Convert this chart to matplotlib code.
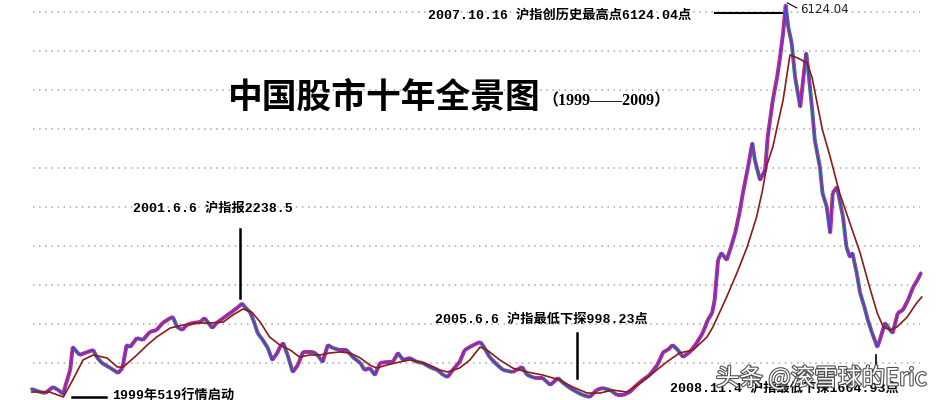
import matplotlib
matplotlib.use("Agg")
import matplotlib.pyplot as plt
import matplotlib.patheffects as pe
from matplotlib.collections import LineCollection
import numpy as np

# 上证指数 (周线收盘走势, 读图估计)  年份小数 / 点位
dates = [1998.97, 1999.07, 1999.13, 1999.22, 1999.28, 1999.34, 1999.36, 1999.42, 1999.45, 1999.48,
         1999.53, 1999.62, 1999.69, 1999.73, 1999.79, 1999.89, 1999.98, 2000.03, 2000.08, 2000.12,
         2000.20, 2000.27, 2000.35, 2000.43, 2000.50, 2000.59, 2000.62, 2000.67, 2000.73, 2000.78,
         2000.85, 2000.94, 2000.99, 2001.08, 2001.13, 2001.21, 2001.29, 2001.37, 2001.43, 2001.46,
         2001.52, 2001.56, 2001.61, 2001.67, 2001.73, 2001.78, 2001.84, 2001.87, 2001.91, 2001.96,
         2002.02, 2002.08, 2002.14, 2002.20, 2002.26, 2002.31, 2002.37, 2002.43, 2002.49, 2002.57,
         2002.65, 2002.72, 2002.81, 2002.86, 2002.92, 2002.98, 2003.04, 2003.12, 2003.19, 2003.25,
         2003.31, 2003.39, 2003.47, 2003.54, 2003.62, 2003.71, 2003.78, 2003.83, 2003.89, 2003.97,
         2004.03, 2004.09, 2004.13, 2004.21, 2004.24, 2004.32, 2004.41, 2004.48, 2004.59, 2004.70,
         2004.76, 2004.85, 2004.94, 2005.03, 2005.12, 2005.18, 2005.26, 2005.34, 2005.41, 2005.49,
         2005.57, 2005.64, 2005.73, 2005.81, 2005.88, 2005.96, 2006.04, 2006.11, 2006.19, 2006.28,
         2006.35, 2006.40, 2006.46, 2006.52, 2006.58, 2006.66, 2006.74, 2006.81, 2006.87, 2006.92,
         2006.95, 2006.99, 2007.03, 2007.09, 2007.13, 2007.19, 2007.24, 2007.28, 2007.34, 2007.39,
         2007.42, 2007.48, 2007.54, 2007.57, 2007.63, 2007.68, 2007.71, 2007.75, 2007.78, 2007.81,
         2007.85, 2007.89, 2007.95, 2007.98, 2008.02, 2008.04, 2008.09, 2008.12, 2008.18, 2008.21,
         2008.26, 2008.30, 2008.33, 2008.38, 2008.41, 2008.45, 2008.49, 2008.53, 2008.56, 2008.61,
         2008.65, 2008.70, 2008.74, 2008.79, 2008.85, 2008.88, 2008.94, 2009.00, 2009.03, 2009.09,
         2009.15, 2009.21, 2009.27, 2009.32, 2009.36]
close = [1115, 1076, 1063, 1142, 1102, 1050, 1142, 1363, 1663, 1624,
         1559, 1598, 1624, 1533, 1455, 1389, 1324, 1389, 1689, 1663,
         1780, 1754, 1859, 1885, 1976, 2041, 2054, 1924, 1885, 1950,
         1976, 1989, 2041, 1911, 1976, 2041, 2106, 2172, 2230, 2185,
         2120, 2015, 1846, 1754, 1650, 1494, 1585, 1663, 1715, 1559,
         1337, 1428, 1598, 1598, 1598, 1559, 1468, 1689, 1650, 1624,
         1624, 1533, 1455, 1363, 1389, 1298, 1455, 1468, 1468, 1585,
         1494, 1520, 1468, 1455, 1402, 1363, 1298, 1272, 1363, 1468,
         1624, 1663, 1689, 1728, 1689, 1533, 1428, 1363, 1337, 1402,
         1298, 1259, 1259, 1168, 1259, 1194, 1128, 1076, 1037, 1011,
         1102, 1128, 1102, 1037, 1037, 1076, 1168, 1233, 1298, 1428,
         1598, 1624, 1689, 1624, 1533, 1598, 1715, 1846, 2015, 2106,
         2276, 2798, 2889, 2798, 2928, 3150, 3411, 3671, 4010, 4323,
         4102, 3841, 3971, 4402, 4884, 5184, 5406, 5758, 6124, 5836,
         5627, 5184, 4793, 5106, 5497, 5314, 4754, 4362, 4010, 3671,
         3489, 3150, 3671, 3749, 3580, 3358, 2967, 2837, 2889, 2628,
         2367, 2185, 2015, 1846, 1663, 1754, 1976, 1885, 1846, 2106,
         2146, 2276, 2446, 2537, 2628]

# 长期均线
ma_dates = [1998.97, 1999.18, 1999.34, 1999.45, 1999.57, 1999.69, 1999.85, 1999.97, 2000.04, 2000.20,
            2000.32, 2000.43, 2000.59, 2000.74, 2000.90, 2001.05, 2001.21, 2001.32, 2001.44, 2001.54,
            2001.64, 2001.75, 2001.87, 2001.99, 2002.10, 2002.22, 2002.34, 2002.45, 2002.57, 2002.69,
            2002.81, 2002.92, 2003.00, 2003.12, 2003.27, 2003.39, 2003.51, 2003.62, 2003.74, 2003.83,
            2003.97, 2004.09, 2004.21, 2004.29, 2004.44, 2004.59, 2004.76, 2004.94, 2005.14, 2005.29,
            2005.46, 2005.61, 2005.76, 2005.92, 2006.08, 2006.23, 2006.39, 2006.54, 2006.70, 2006.86,
            2006.93, 2007.09, 2007.21, 2007.33, 2007.44, 2007.51, 2007.56, 2007.63, 2007.68, 2007.75,
            2007.83, 2007.92, 2008.03, 2008.09, 2008.14, 2008.21, 2008.30, 2008.41, 2008.53, 2008.65,
            2008.76, 2008.85, 2008.92, 2009.00, 2009.08, 2009.20, 2009.31, 2009.37]
ma = [1076, 1076, 1011, 1233, 1494, 1559, 1520, 1402, 1402, 1559,
      1689, 1793, 1911, 1950, 1976, 1976, 1989, 2080, 2159, 2120,
      1989, 1793, 1689, 1624, 1533, 1559, 1559, 1585, 1598, 1585,
      1520, 1428, 1389, 1428, 1468, 1494, 1468, 1428, 1363, 1337,
      1389, 1494, 1663, 1624, 1494, 1389, 1337, 1298, 1233, 1142,
      1063, 1063, 1102, 1076, 1194, 1324, 1468, 1585, 1624, 1793,
      1924, 2315, 2628, 2967, 3358, 3710, 4036, 4271, 4532, 4884,
      5471, 5432, 5366, 5171, 4884, 4493, 4141, 3671, 3280, 2889,
      2446, 2106, 1924, 1885, 1924, 2054, 2237, 2315]

grid_levels = [1455, 1964, 2473, 2982, 3491, 4000, 4509, 5018, 5527, 6036]

plt.rcParams['font.family'] = ['Noto Sans CJK SC', 'DejaVu Sans']

fig = plt.figure(figsize=(9.5, 4), dpi=100)
ax = fig.add_axes([0, 0, 1, 1])
ax.set_xlim(1998.60, 2009.70)
ax.set_ylim(972, 6188)
ax.axis('off')

# 虚线网格
ax.hlines(grid_levels, 1998.99, 2009.35, colors='#a8a8a8', linestyles=(0, (1, 3)), lw=1.1, zorder=0)

# K线感: 涨红跌绿
x = np.array(dates)
y = np.array(close)
segs = [[(x[i], y[i]), (x[i + 1], y[i + 1])] for i in range(len(x) - 1)]
cols = ['#e0202a' if y[i + 1] >= y[i] else '#1a9a2a' for i in range(len(x) - 1)]
ax.add_collection(LineCollection(segs, colors=cols, linewidths=2.8, zorder=2))
ax.plot(dates, close, color='#a035d0', lw=1.9, zorder=3)
ax.plot(dates, close, color='#2838c8', lw=0.5, zorder=4)
ax.plot(ma_dates, ma, color='#8b1a1a', lw=1.2, zorder=5)

mono = ['Liberation Mono', 'Noto Sans CJK SC']
tkw = dict(fontsize=9.5, fontweight='bold', family=mono, color='black', va='center', ha='left')

ax.text(1998.60 + 428 / 85.6, 6188 - 13.04 * 15, '2007.10.16 沪指创历史最高点6124.04点', **tkw)
ax.plot([2006.95, 2007.74], [6019, 6019], color='black', lw=1.5)
ax.plot([2007.80, 2007.91], [6150, 6085], color='black', lw=0.8)
ax.text(2007.95, 6070, '6124.04', fontsize=8.5, color='#222222', family='DejaVu Sans', va='center', ha='left')

ax.text(1998.60 + 228 / 85.6, 6188 - 13.04 * 97, '中国股市十年全景图', fontsize=25, fontweight='heavy',
        color='black', va='center', ha='left')
ax.text(1998.60 + 542 / 85.6, 6188 - 13.04 * 101, '（1999——2009）', fontsize=11.5, fontweight='bold',
        family=['Liberation Serif', 'Noto Sans CJK SC'], color='black', va='center', ha='left')

ax.text(1998.60 + 133 / 85.6, 6188 - 13.04 * 209, '2001.6.6 沪指报2238.5', **tkw)
ax.plot([2001.41, 2001.41], [3202, 2302], color='black', lw=1.8)

ax.text(1998.60 + 435 / 85.6, 6188 - 13.04 * 320, '2005.6.6 沪指最低下探998.23点', **tkw)
ax.plot([2005.34, 2005.34], [1846, 1259], color='black', lw=1.8)

ax.text(1998.60 + 112 / 85.6, 6188 - 13.04 * 395, '1999年519行情启动', **tkw)
ax.plot([1999.44, 1999.84], [1010, 1010], color='black', lw=1.8)

ax.text(1998.60 + 670 / 85.6, 6188 - 13.04 * 389, '2008.11.4 沪指最低下探1664.93点', **tkw)
ax.plot([2008.84, 2008.84], [1559, 1389], color='black', lw=1.2)

# 水印
ax.text(1998.60 + 716 / 85.6, 6188 - 13.04 * 378, '头条 @滚雪球的Eric', fontsize=17, color='white',
        va='center', ha='left', zorder=10,
        path_effects=[pe.withStroke(linewidth=1.6, foreground='#505050')])

fig.savefig('out.png', dpi=100, facecolor='white')
